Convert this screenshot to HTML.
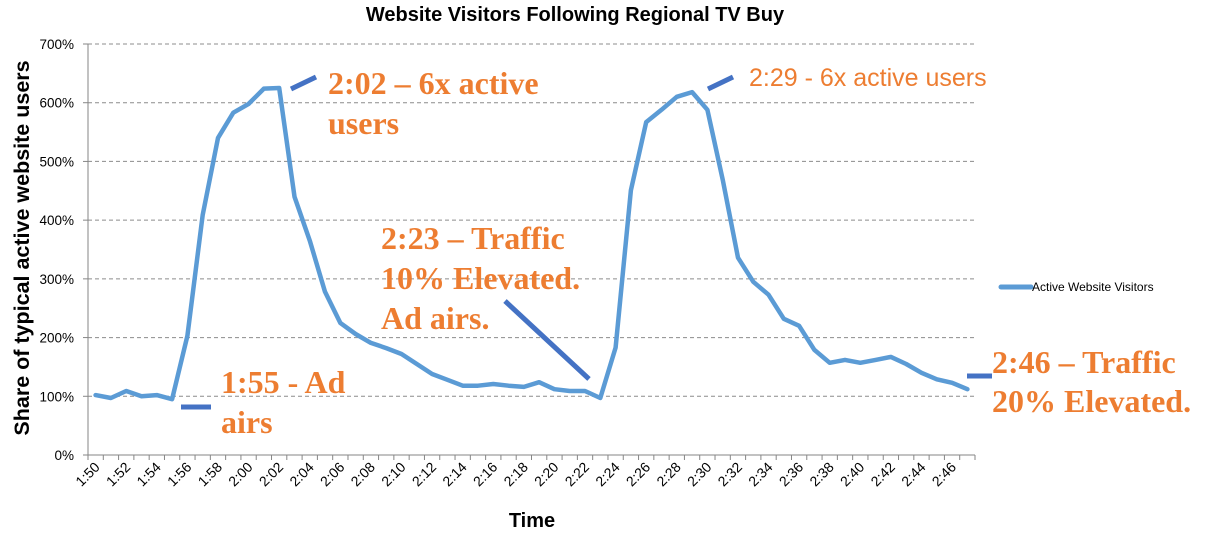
<!DOCTYPE html>
<html><head><meta charset="utf-8"><style>
html,body{margin:0;padding:0;background:#fff;}
svg{display:block;}
</style></head><body>
<svg id="chart" width="1213" height="535" xmlns="http://www.w3.org/2000/svg" font-family="Liberation Sans, sans-serif">
<text x="575" y="21" text-anchor="middle" font-size="20" font-weight="bold">Website Visitors Following Regional TV Buy</text>
<text transform="translate(29,248) rotate(-90)" text-anchor="middle" font-size="21.5" font-weight="bold">Share of typical active website users</text>
<text x="532" y="527" text-anchor="middle" font-size="20" font-weight="bold">Time</text>
<g id="grid"></g><g id="axes"></g><g id="series"></g>
<g>
<line x1="1001" y1="287" x2="1031" y2="287" stroke="#5B9BD5" stroke-width="5" stroke-linecap="round"/>
<text x="1032" y="291" font-size="12">Active Website Visitors</text>
</g>
<g fill="#ED7D31" font-family="Liberation Serif, serif" font-weight="bold" font-size="32">
<line x1="181" y1="407" x2="211" y2="407" stroke="#4472C4" stroke-width="5"/>
<text x="221" y="393">1:55 - Ad</text>
<text x="221" y="433">airs</text>
<line x1="291" y1="89" x2="316" y2="77" stroke="#4472C4" stroke-width="5"/>
<text x="328" y="94">2:02 – 6x active</text>
<text x="328" y="134">users</text>
<line x1="505" y1="301" x2="589" y2="379" stroke="#4472C4" stroke-width="5"/>
<text x="381" y="249">2:23 – Traffic</text>
<text x="381" y="289">10% Elevated.</text>
<text x="381" y="329">Ad airs.</text>
<line x1="708" y1="89" x2="733" y2="77" stroke="#4472C4" stroke-width="5"/>
<text x="749" y="86" font-family="Liberation Sans, sans-serif" font-size="25" font-weight="normal">2:29 - 6x active users</text>
<line x1="967" y1="376" x2="992" y2="376" stroke="#4472C4" stroke-width="5"/>
<text x="992" y="373">2:46 – Traffic</text>
<text x="992" y="412">20% Elevated.</text>
</g>
</svg>
<script>
const categories = [];
for (let m = 110; m <= 167; m++) categories.push(Math.floor(m/60) + ':' + String(m%60).padStart(2,'0'));
const visitors = [102,97,109,100,102,95,203,409,540,583,598,624,625,440,365,278,225,206,191,182,172,155,138,128,118,118,121,118,116,124,112,109,109,97,183,451,567,588,610,618,588,469,336,295,273,232,220,179,157,162,157,162,167,155,140,129,123,112];
const yTicks = [0,100,200,300,400,500,600,700];

const NS = 'http://www.w3.org/2000/svg';
const X0 = 88, X1 = 975, Y0 = 455, Y1 = 44, YMAX = 700;
const bw = (X1 - X0) / categories.length;
function xPos(i){ return X0 + bw * (i + 0.5); }
function yPos(v){ return Y0 - (v / YMAX) * (Y0 - Y1); }
function mk(tag, attrs, parent){ const e = document.createElementNS(NS, tag); for (const k in attrs) e.setAttribute(k, attrs[k]); parent.appendChild(e); return e; }

const grid = document.getElementById('grid');
const axes = document.getElementById('axes');
const series = document.getElementById('series');

yTicks.forEach(t => {
  const y = yPos(t);
  if (t > 0) {
    const gl = mk('line', {x1:X0, x2:X1, y1:y, y2:y, stroke:'#8c8c8c', 'stroke-dasharray':'4,3', 'stroke-width':1}, grid);
    
    
  }
  const tk = mk('line', {x1:X0-5, x2:X0, y1:y, y2:y, stroke:'#868686'}, axes);
  
  
  const lb = mk('text', {x:X0-14, y:y+5, 'text-anchor':'end', 'font-size':13.5}, axes);
  lb.textContent = t + '%';
  
  
});
const ya = mk('line', {x1:X0, x2:X0, y1:Y1, y2:Y0, stroke:'#868686'}, axes);


const xa = mk('line', {x1:X0, x2:X1, y1:Y0, y2:Y0, stroke:'#868686'}, axes);


for (let i = 0; i <= categories.length; i++) {
  const x = X0 + bw * i;
  const tk = mk('line', {x1:x, x2:x, y1:Y0, y2:Y0+5, stroke:'#868686'}, axes);
  
  
}
categories.forEach((c, i) => {
  if (i % 2) return;
  const x = xPos(i) + 5, y = Y0 + 13;
  const lb = mk('text', {x:x, y:y, 'text-anchor':'end', 'font-size':14, transform:'rotate(-45 ' + x + ' ' + y + ')'}, axes);
  lb.textContent = c;
  
  
});
const pts = visitors.map((v, i) => xPos(i).toFixed(1) + ',' + yPos(v).toFixed(1)).join(' ');
const pl = mk('polyline', {points:pts, fill:'none', stroke:'#5B9BD5', 'stroke-width':4.5, 'stroke-linejoin':'round', 'stroke-linecap':'round'}, series);


</script>
</body></html>
